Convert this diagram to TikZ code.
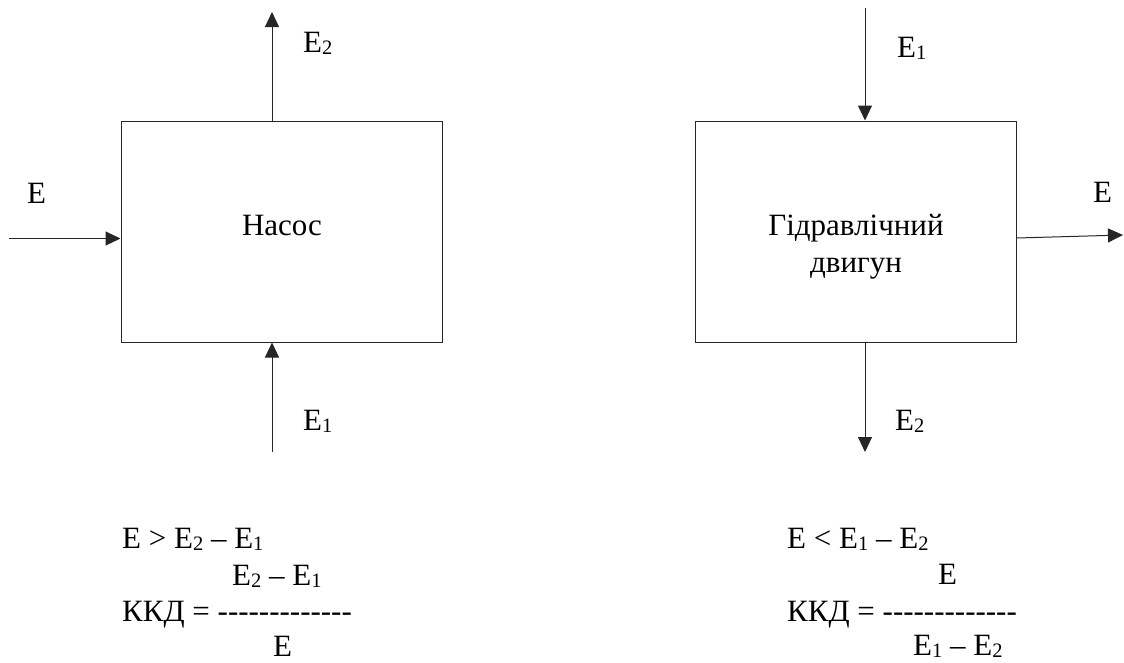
\documentclass[tikz,border=0pt]{standalone}
\usepackage{fontspec}
\setmainfont{Liberation Serif}
\usetikzlibrary{arrows.meta}
\newcommand\sbs[1]{\raisebox{-0.2ex}{\fontsize{20.5}{20.5}\selectfont #1}}
\newcommand\dashrow{-{}-{}-{}-{}-{}-{}-{}-{}-{}-{}-{}-{}-}
\begin{document}
\begin{tikzpicture}[x=1pt,y=-1pt,
  txt/.style={inner sep=0pt, anchor=base west, font=\fontsize{31}{37}\selectfont},
  ctxt/.style={inner sep=0pt, anchor=base, font=\fontsize{31}{37}\selectfont},
  box/.style={draw=black!85, line width=1pt, minimum width=321pt, minimum height=221pt, inner sep=0pt},
  arr/.style={draw=black!85, line width=1pt, -{Triangle[length=15pt,width=14pt]}}]
\useasboundingbox (0,0) rectangle (1124,662);

% boxes
\node[box] (lbox) at (281.5,231.5) {};
\node[box] (rbox) at (855.5,231.5) {};
\node[ctxt] (lname) at (282,235) {Насос};
\node[ctxt] (rname1) at (856,235) {Гідравлічний};
\node[ctxt] (rname2) at (856,272) {двигун};

% left arrows
\coordinate (lin) at (9,238.5);
\coordinate (ltop) at (272,12);
\coordinate (lbot) at (272,452);
\draw[arr] (lin) -- (lbox.west |- lin);
\draw[arr] (lbox.north -| ltop) -- (ltop);
\draw[arr] (lbot) -- (lbox.south -| lbot);

% right arrows
\coordinate (rtop) at (865,8);
\coordinate (rout) at (1123,235);
\coordinate (rbot) at (865,452);
\coordinate (rstart) at (1016.5,238);
\draw[arr] (rtop) -- (rbox.north -| rtop);
\draw[arr] (rstart) -- (rout);
\draw[arr] (rbox.south -| rbot) -- (rbot);

% arrow labels
\node[txt] (lE) at (27,203) {E};
\node[txt] (lE2) at (303,52) {E\sbs{2}};
\node[txt] (lE1) at (303,430) {E\sbs{1}};
\node[txt] (rE) at (1093,202) {E};
\node[txt] (rE1) at (897,57) {E\sbs{1}};
\node[txt] (rE2) at (895,430) {E\sbs{2}};

% left formulas
\node[txt] (lf1) at (122,548) {E > E\sbs{2} – E\sbs{1}};
\node[txt] (lf2) at (232,585) {E\sbs{2} – E\sbs{1}};
\node[txt] (lf3) at (122,621) {ККД = \dashrow};
\node[txt] (lf4) at (273,656) {E};

% right formulas
\node[txt] (rf1) at (787,548) {E < E\sbs{1} – E\sbs{2}};
\node[txt] (rf2) at (938,584) {E};
\node[txt] (rf3) at (787,621) {ККД = \dashrow};
\node[txt] (rf4) at (913,655) {E\sbs{1} – E\sbs{2}};
\end{tikzpicture}
\end{document}
